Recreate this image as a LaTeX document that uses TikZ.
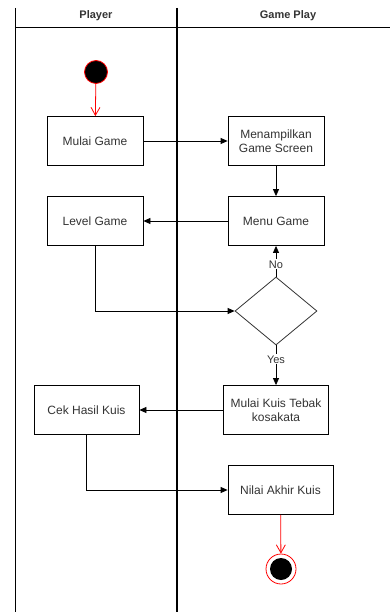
\documentclass[tikz,border=0pt]{standalone}
\usepackage{fontspec}
\setmainfont{Liberation Sans}
\usetikzlibrary{arrows.meta,shapes.geometric}
\definecolor{txt}{HTML}{333333}
\begin{document}
\begin{tikzpicture}[x=1pt,y=-1pt,
  box/.style={draw=black,line width=0.8pt,minimum width=96pt,minimum height=49pt,inner sep=0pt,align=center,font=\fontsize{12}{14}\selectfont,text=txt},
  flow/.style={-{Triangle[length=7pt,width=6pt]},line width=0.8pt},
  redflow/.style={-{Straight Barb[length=8pt,width=9pt]},draw=red,line width=0.8pt},
  lbl/.style={font=\fontsize{11}{13}\selectfont,text=txt,fill=white,inner sep=1pt}]
\useasboundingbox (0,0) rectangle (390,612);
% swimlanes
\draw[line width=0.8pt] (15,8) -- (15,612);
\draw[line width=1.6pt] (177,8) -- (177,612);
\draw[line width=0.8pt] (15,27) -- (390,27);
\node[font=\bfseries\fontsize{11}{13}\selectfont,text=txt] (h1) at (96,16) {Player};
\node[font=\bfseries\fontsize{11}{13}\selectfont,text=txt] (h2) at (288,16) {Game Play};
% nodes
\node[circle,fill=black,draw=red,line width=0.8pt,minimum size=23pt,inner sep=0pt] (start) at (96,72) {};
\node[box] (mulai) at (95,141) {Mulai Game};
\node[box] (tampil) at (276,141) {Menampilkan\\Game Screen};
\node[box] (menu) at (276,221) {Menu Game};
\node[box] (level) at (95,221) {Level Game};
\node[diamond,draw=black!80,line width=0.8pt,minimum width=82pt,minimum height=68pt,inner sep=0pt,aspect=1.2] (dec) at (276,311) {};
\node[box,minimum width=105pt] (kuis) at (276,410) {Mulai Kuis Tebak\\kosakata};
\node[box,minimum width=105pt] (cek) at (86.5,410) {Cek Hasil Kuis};
\node[box,minimum width=105pt] (nilai) at (280.5,490) {Nilai Akhir Kuis};
\node[circle,draw=red,line width=0.8pt,minimum size=30pt,inner sep=0pt] (end) at (281,569) {};
\node[circle,fill=black,minimum size=22pt,inner sep=0pt] (endin) at (281,569) {};
% edges
\draw[redflow] (start) -- (mulai);
\draw[flow] (mulai) -- (tampil);
\draw[flow] (tampil) -- (menu);
\draw[flow] (menu) -- (level);
\draw[flow] (level.south) |- (dec.west);
\draw[flow] (dec.north) -- node[lbl,pos=0.4] {No} (menu.south);
\draw[flow] (dec.south) -- node[lbl,pos=0.35] {Yes} (kuis.north);
\draw[flow] (kuis) -- (cek);
\draw[flow] (cek.south) |- (nilai.west);
\draw[redflow] (nilai) -- (end);
\end{tikzpicture}
\end{document}
